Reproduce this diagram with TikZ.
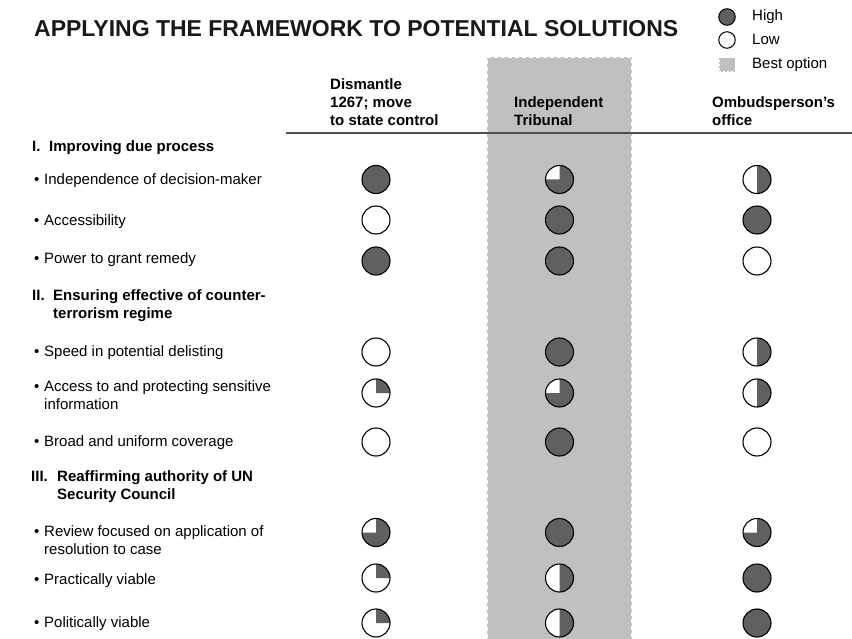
\documentclass[tikz,border=0pt]{standalone}
\usepackage{fontspec}
\setmainfont{Liberation Sans}
\definecolor{hbdark}{HTML}{606060}
\definecolor{bandgray}{HTML}{C0C0C0}
\definecolor{rulegray}{HTML}{505050}
\tikzset{
  rowtext/.style={anchor=base west, inner sep=0pt, align=left, font=\fontsize{15}{18}\selectfont},
  bulletmark/.style={anchor=base west, inner sep=0pt, font=\fontsize{15}{18}\selectfont},
  sectext/.style={anchor=base west, inner sep=0pt, align=left, font=\fontsize{15}{18.5}\selectfont\bfseries},
  colhead/.style={anchor=base west, inner sep=0pt, align=left, font=\fontsize{15}{18.2}\selectfont\bfseries},
  titletext/.style={anchor=base west, inner sep=0pt, text=black!90, font=\fontsize{23}{27}\selectfont\bfseries},
  legtext/.style={anchor=base west, inner sep=0pt, font=\fontsize{15}{18}\selectfont},
  ball/.style={circle, minimum size=28pt, inner sep=0pt, fill=white},
  ballline/.style={draw=black, line width=1.1pt},
  legball/.style={circle, minimum size=16.5pt, inner sep=0pt, draw=black, line width=1pt},
  bestbox/.style={rectangle, minimum width=16pt, minimum height=14pt, inner sep=0pt, fill=bandgray, draw=white, dash pattern=on 2pt off 2pt, line width=1pt},
  headrule/.style={draw=rulegray, line width=1.5pt},
  bandedge/.style={draw=white, line width=1.5pt, dash pattern=on 4pt off 3pt},
}
\newcommand\hbfull[3]{\node[ball, ballline, fill=hbdark] (#1) at (#2,#3) {};}
\newcommand\hbnone[3]{\node[ball, ballline] (#1) at (#2,#3) {};}
\newcommand\hbpart[4]{\node[ball] (#1) at (#2,#3) {};
  \fill[hbdark] (#1.center) -- ++(0,14) arc[start angle=90, delta angle=-#4, radius=14pt] -- cycle;
  \draw[ballline] (#1.center) circle[radius=14pt];}
\begin{document}
\begin{tikzpicture}[x=1pt,y=1pt]
\useasboundingbox (0,0) rectangle (852,-639);
% highlighted column
\fill[bandgray] (487,-57) rectangle (632,-645);
\draw[bandedge] (487,-645) -- (487,-57) -- (632,-57) -- (632,-645);
% title
\node[titletext] (title) at (34,-37) {APPLYING THE FRAMEWORK TO POTENTIAL SOLUTIONS};
% legend
\node[legball, fill=hbdark] (lhigh) at (727,-17) {};
\node[legtext] (thigh) at (752,-21) {High};
\node[legball, fill=white] (llow) at (727,-40) {};
\node[legtext] (tlow) at (752,-45) {Low};
\node[bestbox] (lbest) at (727,-65) {};
\node[legtext] (tbest) at (752,-69) {Best option};
% column headers (base anchor = last line)
\node[colhead] (h1) at (330,-126) {Dismantle\\1267; move\\to state control};
\node[colhead] (h2) at (514,-126) {Independent\\Tribunal};
\node[colhead] (h3) at (712,-126) {Ombudsperson’s\\office};
\coordinate (ruleL) at (286,-133);
\coordinate (ruleR) at (852,-133);
\draw[headrule] (ruleL) -- (ruleR);
% section I
\node[sectext] (s1n) at (32,-152) {I.};
\node[sectext] (s1t) at (49,-152) {Improving due process};
\node[bulletmark] (b1) at (34,-185) {•};
\node[rowtext] (r1) at (44,-185) {Independence of decision-maker};
\node[bulletmark] (b2) at (34,-225.5) {•};
\node[rowtext] (r2) at (44,-225.5) {Accessibility};
\node[bulletmark] (b3) at (34,-264) {•};
\node[rowtext] (r3) at (44,-264) {Power to grant remedy};
% section II
\node[sectext] (s2n) at (32,-300.5) {II.};
\node[sectext] (s2t) at (53,-319) {Ensuring effective of counter-\\terrorism regime};
\node[bulletmark] (b4) at (34,-356.5) {•};
\node[rowtext] (r4) at (44,-356.5) {Speed in potential delisting};
\node[bulletmark] (b5) at (34,-391) {•};
\node[rowtext] (r5) at (44,-409) {Access to and protecting sensitive\\information};
\node[bulletmark] (b6) at (34,-446.5) {•};
\node[rowtext] (r6) at (44,-446.5) {Broad and uniform coverage};
% section III
\node[sectext] (s3n) at (31,-481) {III.};
\node[sectext] (s3t) at (57,-499.5) {Reaffirming authority of UN\\Security Council};
\node[bulletmark] (b7) at (34,-536) {•};
\node[rowtext] (r7) at (44,-554) {Review focused on application of\\resolution to case};
\node[bulletmark] (b8) at (34,-584) {•};
\node[rowtext] (r8) at (44,-584) {Practically viable};
\node[bulletmark] (b9) at (34,-627.5) {•};
\node[rowtext] (r9) at (44,-627.5) {Politically viable};
% harvey balls: column 1
\hbfull{c1r1}{376}{-179.5}
\hbnone{c1r2}{376}{-220}
\hbfull{c1r3}{376}{-261}
\hbnone{c1r4}{376}{-352}
\hbpart{c1r5}{376}{-393}{90}
\hbnone{c1r6}{376}{-442}
\hbpart{c1r7}{376}{-532.5}{270}
\hbpart{c1r8}{376}{-578}{90}
\hbpart{c1r9}{376}{-623}{90}
% column 2
\hbpart{c2r1}{559.5}{-179.5}{270}
\hbfull{c2r2}{559.5}{-220}
\hbfull{c2r3}{559.5}{-261}
\hbfull{c2r4}{559.5}{-352}
\hbpart{c2r5}{559.5}{-393}{270}
\hbfull{c2r6}{559.5}{-442}
\hbfull{c2r7}{559.5}{-532.5}
\hbpart{c2r8}{559.5}{-578}{180}
\hbpart{c2r9}{559.5}{-623}{180}
% column 3
\hbpart{c3r1}{757}{-179.5}{180}
\hbfull{c3r2}{757}{-220}
\hbnone{c3r3}{757}{-261}
\hbpart{c3r4}{757}{-352}{180}
\hbpart{c3r5}{757}{-393}{180}
\hbnone{c3r6}{757}{-442}
\hbpart{c3r7}{757}{-532.5}{270}
\hbfull{c3r8}{757}{-578}
\hbfull{c3r9}{757}{-623}
\end{tikzpicture}
\end{document}
